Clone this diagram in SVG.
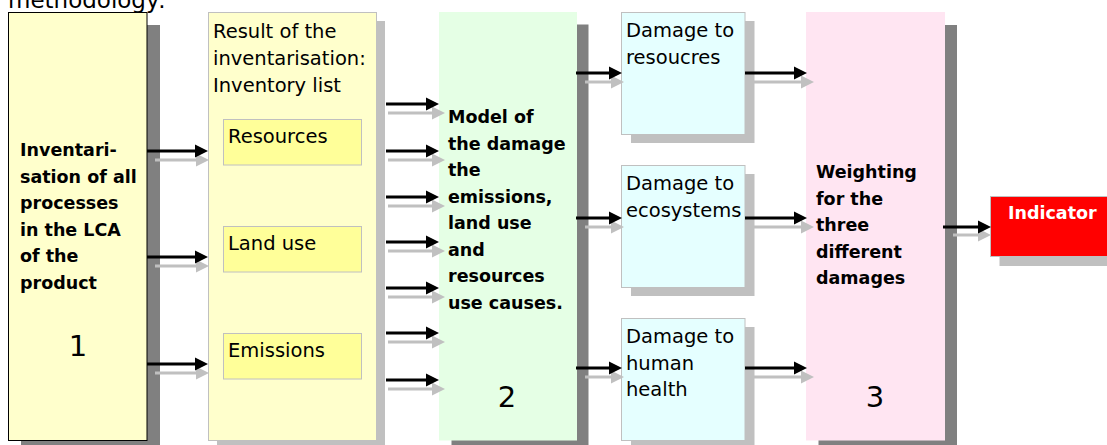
<svg xmlns="http://www.w3.org/2000/svg" width="1107" height="445" viewBox="0 0 1107 445">
  <style>
    .t { font-family: "DejaVu Sans", Verdana, sans-serif; font-size: 19.5px; fill: #000; }
    .b { font-family: "DejaVu Sans", Verdana, sans-serif; font-size: 17.5px; font-weight: bold; fill: #000; }
    .num { font-family: "DejaVu Sans", Verdana, sans-serif; font-size: 29px; fill: #000; text-anchor: middle; }
    .shd { fill: #808080; }
    .shl { fill: #c0c0c0; }
    .yel { fill: #ffffcc; }
    .inner { fill: #ffff99; stroke: #c0c0c0; stroke-width: 1; }
    .dmg { fill: #e5ffff; stroke: #c0c0c0; stroke-width: 1; }
    .ab { stroke: #000; stroke-width: 3; fill: none; marker-end: url(#hb); }
    .ag { stroke: #c0c0c0; stroke-width: 3; fill: none; marker-end: url(#hg); }
  </style>
  <defs>
    <marker id="hb" markerUnits="userSpaceOnUse" markerWidth="13" markerHeight="13" refX="0" refY="6.5" orient="auto" overflow="visible">
      <path d="M0,0 L13,6.5 L0,13 Z" fill="#000"/>
    </marker>
    <marker id="hg" markerUnits="userSpaceOnUse" markerWidth="13" markerHeight="13" refX="0" refY="6.5" orient="auto" overflow="visible">
      <path d="M0,0 L13,6.5 L0,13 Z" fill="#c0c0c0"/>
    </marker>
  </defs>

  <rect width="1107" height="445" fill="#fff"/>

  <!-- heading line above the chart -->
  <text x="8" y="8" font-family="DejaVu Sans, Verdana, sans-serif" font-size="23" fill="#000">methodology:</text>

  <!-- step 1: inventory of processes -->
  <g id="node-inventarisation">
    <rect class="shd" x="21" y="25" width="139" height="428"/>
    <rect class="yel" x="8.5" y="12.5" width="138.5" height="428" stroke="#000" stroke-width="1"/>
    <text class="b" x="20" y="156">Inventari-</text>
    <text class="b" x="20" y="182.5">sation of all</text>
    <text class="b" x="20" y="209">processes</text>
    <text class="b" x="20" y="235.5">in the LCA</text>
    <text class="b" x="20" y="262">of the</text>
    <text class="b" x="20" y="288.5">product</text>
    <text class="num" x="78" y="356">1</text>
  </g>

  <!-- inventory list -->
  <g id="node-inventory-list">
    <rect class="shl" x="217" y="21" width="168" height="428"/>
    <rect class="yel" x="208.5" y="12.5" width="168" height="428" stroke="#c0c0c0" stroke-width="1"/>
    <text class="t" x="213" y="38">Result of the</text>
    <text class="t" x="213" y="65">inventarisation:</text>
    <text class="t" x="213" y="91.5">Inventory list</text>
  </g>
  <g id="node-resources">
    <rect class="inner" x="223.5" y="119.5" width="138" height="45.5"/>
    <text class="t" x="228" y="143">Resources</text>
  </g>
  <g id="node-land-use">
    <rect class="inner" x="223.5" y="226.5" width="138" height="45.5"/>
    <text class="t" x="228" y="250">Land use</text>
  </g>
  <g id="node-emissions">
    <rect class="inner" x="223.5" y="333.5" width="138" height="45.5"/>
    <text class="t" x="228" y="357">Emissions</text>
  </g>

  <!-- step 2: damage model -->
  <g id="node-damage-model">
    <rect class="shd" x="451.5" y="24.5" width="137" height="428"/>
    <rect x="439" y="12" width="138" height="428.5" fill="#e5ffe5"/>
    <text class="b" x="448" y="123">Model of</text>
    <text class="b" x="448" y="149.5">the damage</text>
    <text class="b" x="448" y="176">the</text>
    <text class="b" x="448" y="202.5">emissions,</text>
    <text class="b" x="448" y="229">land use</text>
    <text class="b" x="448" y="255.5">and</text>
    <text class="b" x="448" y="282">resources</text>
    <text class="b" x="448" y="308.5">use causes.</text>
    <text class="num" x="507" y="407">2</text>
  </g>

  <!-- damage categories -->
  <g id="node-damage-resources">
    <rect class="shl" x="631" y="21" width="123.5" height="122"/>
    <rect class="dmg" x="621.5" y="12.5" width="123.5" height="122"/>
    <text class="t" x="626" y="36.5">Damage to</text>
    <text class="t" x="626" y="63.5">resoucres</text>
  </g>
  <g id="node-damage-ecosystems">
    <rect class="shl" x="631" y="174" width="123.5" height="122"/>
    <rect class="dmg" x="621.5" y="165.5" width="123.5" height="122"/>
    <text class="t" x="626" y="190">Damage to</text>
    <text class="t" x="626" y="217">ecosystems</text>
  </g>
  <g id="node-damage-health">
    <rect class="shl" x="631" y="327" width="123.5" height="122"/>
    <rect class="dmg" x="621.5" y="318.5" width="123.5" height="122"/>
    <text class="t" x="626" y="343">Damage to</text>
    <text class="t" x="626" y="369.5">human</text>
    <text class="t" x="626" y="396">health</text>
  </g>

  <!-- step 3: weighting -->
  <g id="node-weighting">
    <rect class="shd" x="818.5" y="25" width="138.5" height="428"/>
    <rect x="806" y="12" width="139" height="428.5" fill="#ffe5f2"/>
    <text class="b" x="816" y="178">Weighting</text>
    <text class="b" x="816" y="204.5">for the</text>
    <text class="b" x="816" y="231">three</text>
    <text class="b" x="816" y="257.5">different</text>
    <text class="b" x="816" y="284">damages</text>
    <text class="num" x="875" y="407">3</text>
  </g>

  <!-- result -->
  <g id="node-indicator">
    <rect class="shl" x="999.5" y="206" width="130" height="60"/>
    <rect x="990.5" y="196.5" width="130" height="60" fill="#ff0000" stroke="#c0c0c0" stroke-width="1"/>
    <text class="b" x="1008" y="219" fill="#fff" style="fill:#fff">Indicator</text>
  </g>

  <!-- flow arrows, each with a light offset copy beneath -->
  <g id="connectors">
    <line class="ag" x1="155" y1="160" x2="196" y2="160"/>
    <line class="ag" x1="155" y1="266" x2="196" y2="266"/>
    <line class="ag" x1="155" y1="373" x2="196" y2="373"/>
    <line class="ab" x1="147" y1="151" x2="195" y2="151"/>
    <line class="ab" x1="147" y1="257" x2="195" y2="257"/>
    <line class="ab" x1="147" y1="364" x2="195" y2="364"/>

    <line class="ag" x1="388" y1="113" x2="432" y2="113"/>
    <line class="ag" x1="388" y1="160" x2="432" y2="160"/>
    <line class="ag" x1="388" y1="206" x2="432" y2="206"/>
    <line class="ag" x1="388" y1="251" x2="432" y2="251"/>
    <line class="ag" x1="388" y1="297" x2="432" y2="297"/>
    <line class="ag" x1="388" y1="342" x2="432" y2="342"/>
    <line class="ag" x1="388" y1="389" x2="432" y2="389"/>
    <line class="ab" x1="386" y1="104" x2="426" y2="104"/>
    <line class="ab" x1="386" y1="151" x2="426" y2="151"/>
    <line class="ab" x1="386" y1="197" x2="426" y2="197"/>
    <line class="ab" x1="386" y1="242" x2="426" y2="242"/>
    <line class="ab" x1="386" y1="288" x2="426" y2="288"/>
    <line class="ab" x1="386" y1="333" x2="426" y2="333"/>
    <line class="ab" x1="386" y1="380" x2="426" y2="380"/>

    <line class="ag" x1="585" y1="82" x2="611" y2="82"/>
    <line class="ag" x1="585" y1="227" x2="611" y2="227"/>
    <line class="ag" x1="585" y1="377" x2="611" y2="377"/>
    <line class="ab" x1="576" y1="73" x2="609" y2="73"/>
    <line class="ab" x1="576" y1="218" x2="609" y2="218"/>
    <line class="ab" x1="576" y1="368" x2="609" y2="368"/>

    <line class="ag" x1="750" y1="82" x2="801" y2="82"/>
    <line class="ag" x1="750" y1="227" x2="801" y2="227"/>
    <line class="ag" x1="750" y1="377" x2="801" y2="377"/>
    <line class="ab" x1="745" y1="73" x2="794" y2="73"/>
    <line class="ab" x1="745" y1="218" x2="794" y2="218"/>
    <line class="ab" x1="745" y1="368" x2="794" y2="368"/>

    <line class="ag" x1="953" y1="235" x2="978" y2="235"/>
    <line class="ab" x1="943" y1="227" x2="978" y2="227"/>
  </g>
</svg>
